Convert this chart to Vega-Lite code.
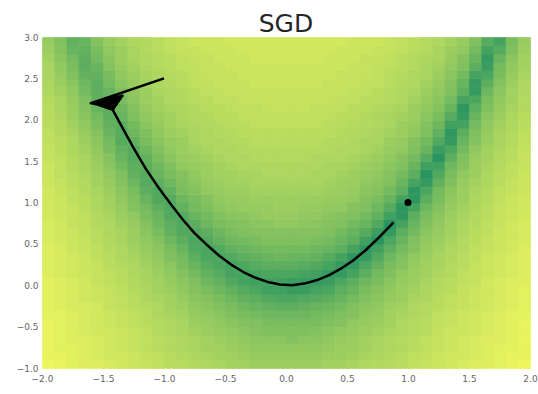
{
"$schema":"https://vega.github.io/schema/vega-lite/v6.json",
"width":488,"height":331,
"autosize":{"type":"none"},
"padding":{"left":42,"top":37,"right":8,"bottom":26},
"background":"white",
"title":{"text":"SGD","fontSize":25,"fontWeight":"normal","font":"DejaVu Sans","color":"#262626","anchor":"middle","offset":0,"baseline":"bottom","dy":29},
"config":{"view":{"stroke":null},"axis":{"domain":false,"ticks":false,"grid":false,"labelFont":"DejaVu Sans","labelFontSize":9,"labelColor":"#666666","title":null}},
"datasets":{
"grid":[
{"x":-1.95,"y":-0.95,"z":3.4},{"x":-1.95,"y":-0.85,"z":3.3},{"x":-1.95,"y":-0.75,"z":3.3},{"x":-1.95,"y":-0.65,"z":3.3},{"x":-1.95,"y":-0.55,"z":3.3},{"x":-1.95,"y":-0.45,"z":3.3},{"x":-1.95,"y":-0.35,"z":3.2},{"x":-1.95,"y":-0.25,"z":3.2},{"x":-1.95,"y":-0.15,"z":3.2},{"x":-1.95,"y":-0.05,"z":3.2},{"x":-1.95,"y":0.05,"z":3.2},{"x":-1.95,"y":0.15,"z":3.1},{"x":-1.95,"y":0.25,"z":3.1},{"x":-1.95,"y":0.35,"z":3.1},{"x":-1.95,"y":0.45,"z":3.1},{"x":-1.95,"y":0.55,"z":3.0},{"x":-1.95,"y":0.65,"z":3.0},{"x":-1.95,"y":0.75,"z":3.0},{"x":-1.95,"y":0.85,"z":2.9},{"x":-1.95,"y":0.95,"z":2.9},{"x":-1.95,"y":1.05,"z":2.9},{"x":-1.95,"y":1.15,"z":2.9},{"x":-1.95,"y":1.25,"z":2.8},{"x":-1.95,"y":1.35,"z":2.8},{"x":-1.95,"y":1.45,"z":2.8},{"x":-1.95,"y":1.55,"z":2.7},{"x":-1.95,"y":1.65,"z":2.7},{"x":-1.95,"y":1.75,"z":2.6},{"x":-1.95,"y":1.85,"z":2.6},{"x":-1.95,"y":1.95,"z":2.5},{"x":-1.95,"y":2.05,"z":2.5},{"x":-1.95,"y":2.15,"z":2.5},{"x":-1.95,"y":2.25,"z":2.4},{"x":-1.95,"y":2.35,"z":2.3},{"x":-1.95,"y":2.45,"z":2.3},{"x":-1.95,"y":2.55,"z":2.2},{"x":-1.95,"y":2.65,"z":2.2},{"x":-1.95,"y":2.75,"z":2.1},{"x":-1.95,"y":2.85,"z":2.0},{"x":-1.95,"y":2.95,"z":1.9},
{"x":-1.85,"y":-0.95,"z":3.3},{"x":-1.85,"y":-0.85,"z":3.3},{"x":-1.85,"y":-0.75,"z":3.2},{"x":-1.85,"y":-0.65,"z":3.2},{"x":-1.85,"y":-0.55,"z":3.2},{"x":-1.85,"y":-0.45,"z":3.2},{"x":-1.85,"y":-0.35,"z":3.2},{"x":-1.85,"y":-0.25,"z":3.1},{"x":-1.85,"y":-0.15,"z":3.1},{"x":-1.85,"y":-0.05,"z":3.1},{"x":-1.85,"y":0.05,"z":3.1},{"x":-1.85,"y":0.15,"z":3.0},{"x":-1.85,"y":0.25,"z":3.0},{"x":-1.85,"y":0.35,"z":3.0},{"x":-1.85,"y":0.45,"z":3.0},{"x":-1.85,"y":0.55,"z":2.9},{"x":-1.85,"y":0.65,"z":2.9},{"x":-1.85,"y":0.75,"z":2.9},{"x":-1.85,"y":0.85,"z":2.8},{"x":-1.85,"y":0.95,"z":2.8},{"x":-1.85,"y":1.05,"z":2.8},{"x":-1.85,"y":1.15,"z":2.7},{"x":-1.85,"y":1.25,"z":2.7},{"x":-1.85,"y":1.35,"z":2.6},{"x":-1.85,"y":1.45,"z":2.6},{"x":-1.85,"y":1.55,"z":2.6},{"x":-1.85,"y":1.65,"z":2.5},{"x":-1.85,"y":1.75,"z":2.5},{"x":-1.85,"y":1.85,"z":2.4},{"x":-1.85,"y":1.95,"z":2.4},{"x":-1.85,"y":2.05,"z":2.3},{"x":-1.85,"y":2.15,"z":2.2},{"x":-1.85,"y":2.25,"z":2.2},{"x":-1.85,"y":2.35,"z":2.1},{"x":-1.85,"y":2.45,"z":2.0},{"x":-1.85,"y":2.55,"z":1.9},{"x":-1.85,"y":2.65,"z":1.8},{"x":-1.85,"y":2.75,"z":1.7},{"x":-1.85,"y":2.85,"z":1.6},{"x":-1.85,"y":2.95,"z":1.5},
{"x":-1.75,"y":-0.95,"z":3.2},{"x":-1.75,"y":-0.85,"z":3.2},{"x":-1.75,"y":-0.75,"z":3.2},{"x":-1.75,"y":-0.65,"z":3.1},{"x":-1.75,"y":-0.55,"z":3.1},{"x":-1.75,"y":-0.45,"z":3.1},{"x":-1.75,"y":-0.35,"z":3.1},{"x":-1.75,"y":-0.25,"z":3.0},{"x":-1.75,"y":-0.15,"z":3.0},{"x":-1.75,"y":-0.05,"z":3.0},{"x":-1.75,"y":0.05,"z":3.0},{"x":-1.75,"y":0.15,"z":2.9},{"x":-1.75,"y":0.25,"z":2.9},{"x":-1.75,"y":0.35,"z":2.9},{"x":-1.75,"y":0.45,"z":2.8},{"x":-1.75,"y":0.55,"z":2.8},{"x":-1.75,"y":0.65,"z":2.8},{"x":-1.75,"y":0.75,"z":2.7},{"x":-1.75,"y":0.85,"z":2.7},{"x":-1.75,"y":0.95,"z":2.7},{"x":-1.75,"y":1.05,"z":2.6},{"x":-1.75,"y":1.15,"z":2.6},{"x":-1.75,"y":1.25,"z":2.5},{"x":-1.75,"y":1.35,"z":2.5},{"x":-1.75,"y":1.45,"z":2.4},{"x":-1.75,"y":1.55,"z":2.4},{"x":-1.75,"y":1.65,"z":2.3},{"x":-1.75,"y":1.75,"z":2.3},{"x":-1.75,"y":1.85,"z":2.2},{"x":-1.75,"y":1.95,"z":2.1},{"x":-1.75,"y":2.05,"z":2.0},{"x":-1.75,"y":2.15,"z":2.0},{"x":-1.75,"y":2.25,"z":1.9},{"x":-1.75,"y":2.35,"z":1.8},{"x":-1.75,"y":2.45,"z":1.7},{"x":-1.75,"y":2.55,"z":1.5},{"x":-1.75,"y":2.65,"z":1.4},{"x":-1.75,"y":2.75,"z":1.3},{"x":-1.75,"y":2.85,"z":1.1},{"x":-1.75,"y":2.95,"z":1.0},
{"x":-1.65,"y":-0.95,"z":3.1},{"x":-1.65,"y":-0.85,"z":3.1},{"x":-1.65,"y":-0.75,"z":3.1},{"x":-1.65,"y":-0.65,"z":3.1},{"x":-1.65,"y":-0.55,"z":3.0},{"x":-1.65,"y":-0.45,"z":3.0},{"x":-1.65,"y":-0.35,"z":3.0},{"x":-1.65,"y":-0.25,"z":3.0},{"x":-1.65,"y":-0.15,"z":2.9},{"x":-1.65,"y":-0.05,"z":2.9},{"x":-1.65,"y":0.05,"z":2.9},{"x":-1.65,"y":0.15,"z":2.8},{"x":-1.65,"y":0.25,"z":2.8},{"x":-1.65,"y":0.35,"z":2.8},{"x":-1.65,"y":0.45,"z":2.7},{"x":-1.65,"y":0.55,"z":2.7},{"x":-1.65,"y":0.65,"z":2.6},{"x":-1.65,"y":0.75,"z":2.6},{"x":-1.65,"y":0.85,"z":2.6},{"x":-1.65,"y":0.95,"z":2.5},{"x":-1.65,"y":1.05,"z":2.5},{"x":-1.65,"y":1.15,"z":2.4},{"x":-1.65,"y":1.25,"z":2.4},{"x":-1.65,"y":1.35,"z":2.3},{"x":-1.65,"y":1.45,"z":2.2},{"x":-1.65,"y":1.55,"z":2.2},{"x":-1.65,"y":1.65,"z":2.1},{"x":-1.65,"y":1.75,"z":2.0},{"x":-1.65,"y":1.85,"z":1.9},{"x":-1.65,"y":1.95,"z":1.8},{"x":-1.65,"y":2.05,"z":1.7},{"x":-1.65,"y":2.15,"z":1.6},{"x":-1.65,"y":2.25,"z":1.5},{"x":-1.65,"y":2.35,"z":1.3},{"x":-1.65,"y":2.45,"z":1.2},{"x":-1.65,"y":2.55,"z":1.0},{"x":-1.65,"y":2.65,"z":0.9},{"x":-1.65,"y":2.75,"z":0.9},{"x":-1.65,"y":2.85,"z":1.0},{"x":-1.65,"y":2.95,"z":1.1},
{"x":-1.55,"y":-0.95,"z":3.1},{"x":-1.55,"y":-0.85,"z":3.0},{"x":-1.55,"y":-0.75,"z":3.0},{"x":-1.55,"y":-0.65,"z":3.0},{"x":-1.55,"y":-0.55,"z":2.9},{"x":-1.55,"y":-0.45,"z":2.9},{"x":-1.55,"y":-0.35,"z":2.9},{"x":-1.55,"y":-0.25,"z":2.9},{"x":-1.55,"y":-0.15,"z":2.8},{"x":-1.55,"y":-0.05,"z":2.8},{"x":-1.55,"y":0.05,"z":2.7},{"x":-1.55,"y":0.15,"z":2.7},{"x":-1.55,"y":0.25,"z":2.7},{"x":-1.55,"y":0.35,"z":2.6},{"x":-1.55,"y":0.45,"z":2.6},{"x":-1.55,"y":0.55,"z":2.5},{"x":-1.55,"y":0.65,"z":2.5},{"x":-1.55,"y":0.75,"z":2.4},{"x":-1.55,"y":0.85,"z":2.4},{"x":-1.55,"y":0.95,"z":2.3},{"x":-1.55,"y":1.05,"z":2.3},{"x":-1.55,"y":1.15,"z":2.2},{"x":-1.55,"y":1.25,"z":2.1},{"x":-1.55,"y":1.35,"z":2.1},{"x":-1.55,"y":1.45,"z":2.0},{"x":-1.55,"y":1.55,"z":1.9},{"x":-1.55,"y":1.65,"z":1.8},{"x":-1.55,"y":1.75,"z":1.7},{"x":-1.55,"y":1.85,"z":1.6},{"x":-1.55,"y":1.95,"z":1.4},{"x":-1.55,"y":2.05,"z":1.3},{"x":-1.55,"y":2.15,"z":1.1},{"x":-1.55,"y":2.25,"z":1.0},{"x":-1.55,"y":2.35,"z":0.9},{"x":-1.55,"y":2.45,"z":0.9},{"x":-1.55,"y":2.55,"z":1.0},{"x":-1.55,"y":2.65,"z":1.1},{"x":-1.55,"y":2.75,"z":1.3},{"x":-1.55,"y":2.85,"z":1.4},{"x":-1.55,"y":2.95,"z":1.6},
{"x":-1.45,"y":-0.95,"z":3.0},{"x":-1.45,"y":-0.85,"z":2.9},{"x":-1.45,"y":-0.75,"z":2.9},{"x":-1.45,"y":-0.65,"z":2.9},{"x":-1.45,"y":-0.55,"z":2.9},{"x":-1.45,"y":-0.45,"z":2.8},{"x":-1.45,"y":-0.35,"z":2.8},{"x":-1.45,"y":-0.25,"z":2.7},{"x":-1.45,"y":-0.15,"z":2.7},{"x":-1.45,"y":-0.05,"z":2.7},{"x":-1.45,"y":0.05,"z":2.6},{"x":-1.45,"y":0.15,"z":2.6},{"x":-1.45,"y":0.25,"z":2.5},{"x":-1.45,"y":0.35,"z":2.5},{"x":-1.45,"y":0.45,"z":2.4},{"x":-1.45,"y":0.55,"z":2.4},{"x":-1.45,"y":0.65,"z":2.3},{"x":-1.45,"y":0.75,"z":2.3},{"x":-1.45,"y":0.85,"z":2.2},{"x":-1.45,"y":0.95,"z":2.1},{"x":-1.45,"y":1.05,"z":2.1},{"x":-1.45,"y":1.15,"z":2.0},{"x":-1.45,"y":1.25,"z":1.9},{"x":-1.45,"y":1.35,"z":1.8},{"x":-1.45,"y":1.45,"z":1.7},{"x":-1.45,"y":1.55,"z":1.6},{"x":-1.45,"y":1.65,"z":1.4},{"x":-1.45,"y":1.75,"z":1.3},{"x":-1.45,"y":1.85,"z":1.1},{"x":-1.45,"y":1.95,"z":1.0},{"x":-1.45,"y":2.05,"z":0.9},{"x":-1.45,"y":2.15,"z":0.9},{"x":-1.45,"y":2.25,"z":1.0},{"x":-1.45,"y":2.35,"z":1.1},{"x":-1.45,"y":2.45,"z":1.3},{"x":-1.45,"y":2.55,"z":1.4},{"x":-1.45,"y":2.65,"z":1.6},{"x":-1.45,"y":2.75,"z":1.7},{"x":-1.45,"y":2.85,"z":1.8},{"x":-1.45,"y":2.95,"z":1.9},
{"x":-1.35,"y":-0.95,"z":2.9},{"x":-1.35,"y":-0.85,"z":2.9},{"x":-1.35,"y":-0.75,"z":2.8},{"x":-1.35,"y":-0.65,"z":2.8},{"x":-1.35,"y":-0.55,"z":2.8},{"x":-1.35,"y":-0.45,"z":2.7},{"x":-1.35,"y":-0.35,"z":2.7},{"x":-1.35,"y":-0.25,"z":2.6},{"x":-1.35,"y":-0.15,"z":2.6},{"x":-1.35,"y":-0.05,"z":2.6},{"x":-1.35,"y":0.05,"z":2.5},{"x":-1.35,"y":0.15,"z":2.5},{"x":-1.35,"y":0.25,"z":2.4},{"x":-1.35,"y":0.35,"z":2.3},{"x":-1.35,"y":0.45,"z":2.3},{"x":-1.35,"y":0.55,"z":2.2},{"x":-1.35,"y":0.65,"z":2.2},{"x":-1.35,"y":0.75,"z":2.1},{"x":-1.35,"y":0.85,"z":2.0},{"x":-1.35,"y":0.95,"z":1.9},{"x":-1.35,"y":1.05,"z":1.8},{"x":-1.35,"y":1.15,"z":1.7},{"x":-1.35,"y":1.25,"z":1.6},{"x":-1.35,"y":1.35,"z":1.5},{"x":-1.35,"y":1.45,"z":1.3},{"x":-1.35,"y":1.55,"z":1.1},{"x":-1.35,"y":1.65,"z":1.0},{"x":-1.35,"y":1.75,"z":0.8},{"x":-1.35,"y":1.85,"z":0.8},{"x":-1.35,"y":1.95,"z":0.9},{"x":-1.35,"y":2.05,"z":1.1},{"x":-1.35,"y":2.15,"z":1.2},{"x":-1.35,"y":2.25,"z":1.4},{"x":-1.35,"y":2.35,"z":1.5},{"x":-1.35,"y":2.45,"z":1.7},{"x":-1.35,"y":2.55,"z":1.8},{"x":-1.35,"y":2.65,"z":1.9},{"x":-1.35,"y":2.75,"z":2.0},{"x":-1.35,"y":2.85,"z":2.0},{"x":-1.35,"y":2.95,"z":2.1},
{"x":-1.25,"y":-0.95,"z":2.8},{"x":-1.25,"y":-0.85,"z":2.8},{"x":-1.25,"y":-0.75,"z":2.7},{"x":-1.25,"y":-0.65,"z":2.7},{"x":-1.25,"y":-0.55,"z":2.7},{"x":-1.25,"y":-0.45,"z":2.6},{"x":-1.25,"y":-0.35,"z":2.6},{"x":-1.25,"y":-0.25,"z":2.5},{"x":-1.25,"y":-0.15,"z":2.5},{"x":-1.25,"y":-0.05,"z":2.4},{"x":-1.25,"y":0.05,"z":2.4},{"x":-1.25,"y":0.15,"z":2.3},{"x":-1.25,"y":0.25,"z":2.3},{"x":-1.25,"y":0.35,"z":2.2},{"x":-1.25,"y":0.45,"z":2.1},{"x":-1.25,"y":0.55,"z":2.0},{"x":-1.25,"y":0.65,"z":2.0},{"x":-1.25,"y":0.75,"z":1.9},{"x":-1.25,"y":0.85,"z":1.8},{"x":-1.25,"y":0.95,"z":1.6},{"x":-1.25,"y":1.05,"z":1.5},{"x":-1.25,"y":1.15,"z":1.4},{"x":-1.25,"y":1.25,"z":1.2},{"x":-1.25,"y":1.35,"z":1.0},{"x":-1.25,"y":1.45,"z":0.9},{"x":-1.25,"y":1.55,"z":0.8},{"x":-1.25,"y":1.65,"z":0.8},{"x":-1.25,"y":1.75,"z":1.0},{"x":-1.25,"y":1.85,"z":1.2},{"x":-1.25,"y":1.95,"z":1.3},{"x":-1.25,"y":2.05,"z":1.5},{"x":-1.25,"y":2.15,"z":1.6},{"x":-1.25,"y":2.25,"z":1.7},{"x":-1.25,"y":2.35,"z":1.8},{"x":-1.25,"y":2.45,"z":1.9},{"x":-1.25,"y":2.55,"z":2.0},{"x":-1.25,"y":2.65,"z":2.1},{"x":-1.25,"y":2.75,"z":2.2},{"x":-1.25,"y":2.85,"z":2.2},{"x":-1.25,"y":2.95,"z":2.3},
{"x":-1.15,"y":-0.95,"z":2.7},{"x":-1.15,"y":-0.85,"z":2.7},{"x":-1.15,"y":-0.75,"z":2.6},{"x":-1.15,"y":-0.65,"z":2.6},{"x":-1.15,"y":-0.55,"z":2.6},{"x":-1.15,"y":-0.45,"z":2.5},{"x":-1.15,"y":-0.35,"z":2.5},{"x":-1.15,"y":-0.25,"z":2.4},{"x":-1.15,"y":-0.15,"z":2.3},{"x":-1.15,"y":-0.05,"z":2.3},{"x":-1.15,"y":0.05,"z":2.2},{"x":-1.15,"y":0.15,"z":2.2},{"x":-1.15,"y":0.25,"z":2.1},{"x":-1.15,"y":0.35,"z":2.0},{"x":-1.15,"y":0.45,"z":1.9},{"x":-1.15,"y":0.55,"z":1.8},{"x":-1.15,"y":0.65,"z":1.7},{"x":-1.15,"y":0.75,"z":1.6},{"x":-1.15,"y":0.85,"z":1.4},{"x":-1.15,"y":0.95,"z":1.3},{"x":-1.15,"y":1.05,"z":1.1},{"x":-1.15,"y":1.15,"z":0.9},{"x":-1.15,"y":1.25,"z":0.8},{"x":-1.15,"y":1.35,"z":0.8},{"x":-1.15,"y":1.45,"z":0.9},{"x":-1.15,"y":1.55,"z":1.0},{"x":-1.15,"y":1.65,"z":1.2},{"x":-1.15,"y":1.75,"z":1.4},{"x":-1.15,"y":1.85,"z":1.5},{"x":-1.15,"y":1.95,"z":1.7},{"x":-1.15,"y":2.05,"z":1.8},{"x":-1.15,"y":2.15,"z":1.9},{"x":-1.15,"y":2.25,"z":2.0},{"x":-1.15,"y":2.35,"z":2.0},{"x":-1.15,"y":2.45,"z":2.1},{"x":-1.15,"y":2.55,"z":2.2},{"x":-1.15,"y":2.65,"z":2.3},{"x":-1.15,"y":2.75,"z":2.3},{"x":-1.15,"y":2.85,"z":2.4},{"x":-1.15,"y":2.95,"z":2.4},
{"x":-1.05,"y":-0.95,"z":2.6},{"x":-1.05,"y":-0.85,"z":2.6},{"x":-1.05,"y":-0.75,"z":2.5},{"x":-1.05,"y":-0.65,"z":2.5},{"x":-1.05,"y":-0.55,"z":2.4},{"x":-1.05,"y":-0.45,"z":2.4},{"x":-1.05,"y":-0.35,"z":2.3},{"x":-1.05,"y":-0.25,"z":2.3},{"x":-1.05,"y":-0.15,"z":2.2},{"x":-1.05,"y":-0.05,"z":2.1},{"x":-1.05,"y":0.05,"z":2.1},{"x":-1.05,"y":0.15,"z":2.0},{"x":-1.05,"y":0.25,"z":1.9},{"x":-1.05,"y":0.35,"z":1.8},{"x":-1.05,"y":0.45,"z":1.7},{"x":-1.05,"y":0.55,"z":1.6},{"x":-1.05,"y":0.65,"z":1.4},{"x":-1.05,"y":0.75,"z":1.2},{"x":-1.05,"y":0.85,"z":1.1},{"x":-1.05,"y":0.95,"z":0.9},{"x":-1.05,"y":1.05,"z":0.7},{"x":-1.05,"y":1.15,"z":0.7},{"x":-1.05,"y":1.25,"z":0.9},{"x":-1.05,"y":1.35,"z":1.1},{"x":-1.05,"y":1.45,"z":1.2},{"x":-1.05,"y":1.55,"z":1.4},{"x":-1.05,"y":1.65,"z":1.5},{"x":-1.05,"y":1.75,"z":1.7},{"x":-1.05,"y":1.85,"z":1.8},{"x":-1.05,"y":1.95,"z":1.9},{"x":-1.05,"y":2.05,"z":2.0},{"x":-1.05,"y":2.15,"z":2.1},{"x":-1.05,"y":2.25,"z":2.1},{"x":-1.05,"y":2.35,"z":2.2},{"x":-1.05,"y":2.45,"z":2.3},{"x":-1.05,"y":2.55,"z":2.3},{"x":-1.05,"y":2.65,"z":2.4},{"x":-1.05,"y":2.75,"z":2.4},{"x":-1.05,"y":2.85,"z":2.5},{"x":-1.05,"y":2.95,"z":2.5},
{"x":-0.95,"y":-0.95,"z":2.5},{"x":-0.95,"y":-0.85,"z":2.5},{"x":-0.95,"y":-0.75,"z":2.4},{"x":-0.95,"y":-0.65,"z":2.4},{"x":-0.95,"y":-0.55,"z":2.3},{"x":-0.95,"y":-0.45,"z":2.3},{"x":-0.95,"y":-0.35,"z":2.2},{"x":-0.95,"y":-0.25,"z":2.1},{"x":-0.95,"y":-0.15,"z":2.1},{"x":-0.95,"y":-0.05,"z":2.0},{"x":-0.95,"y":0.05,"z":1.9},{"x":-0.95,"y":0.15,"z":1.8},{"x":-0.95,"y":0.25,"z":1.7},{"x":-0.95,"y":0.35,"z":1.5},{"x":-0.95,"y":0.45,"z":1.4},{"x":-0.95,"y":0.55,"z":1.2},{"x":-0.95,"y":0.65,"z":1.0},{"x":-0.95,"y":0.75,"z":0.9},{"x":-0.95,"y":0.85,"z":0.7},{"x":-0.95,"y":0.95,"z":0.7},{"x":-0.95,"y":1.05,"z":0.8},{"x":-0.95,"y":1.15,"z":1.0},{"x":-0.95,"y":1.25,"z":1.2},{"x":-0.95,"y":1.35,"z":1.4},{"x":-0.95,"y":1.45,"z":1.5},{"x":-0.95,"y":1.55,"z":1.7},{"x":-0.95,"y":1.65,"z":1.8},{"x":-0.95,"y":1.75,"z":1.9},{"x":-0.95,"y":1.85,"z":2.0},{"x":-0.95,"y":1.95,"z":2.1},{"x":-0.95,"y":2.05,"z":2.1},{"x":-0.95,"y":2.15,"z":2.2},{"x":-0.95,"y":2.25,"z":2.3},{"x":-0.95,"y":2.35,"z":2.3},{"x":-0.95,"y":2.45,"z":2.4},{"x":-0.95,"y":2.55,"z":2.4},{"x":-0.95,"y":2.65,"z":2.5},{"x":-0.95,"y":2.75,"z":2.5},{"x":-0.95,"y":2.85,"z":2.6},{"x":-0.95,"y":2.95,"z":2.6},
{"x":-0.85,"y":-0.95,"z":2.5},{"x":-0.85,"y":-0.85,"z":2.4},{"x":-0.85,"y":-0.75,"z":2.3},{"x":-0.85,"y":-0.65,"z":2.3},{"x":-0.85,"y":-0.55,"z":2.2},{"x":-0.85,"y":-0.45,"z":2.2},{"x":-0.85,"y":-0.35,"z":2.1},{"x":-0.85,"y":-0.25,"z":2.0},{"x":-0.85,"y":-0.15,"z":1.9},{"x":-0.85,"y":-0.05,"z":1.8},{"x":-0.85,"y":0.05,"z":1.7},{"x":-0.85,"y":0.15,"z":1.6},{"x":-0.85,"y":0.25,"z":1.4},{"x":-0.85,"y":0.35,"z":1.3},{"x":-0.85,"y":0.45,"z":1.1},{"x":-0.85,"y":0.55,"z":0.9},{"x":-0.85,"y":0.65,"z":0.7},{"x":-0.85,"y":0.75,"z":0.7},{"x":-0.85,"y":0.85,"z":0.8},{"x":-0.85,"y":0.95,"z":1.0},{"x":-0.85,"y":1.05,"z":1.2},{"x":-0.85,"y":1.15,"z":1.4},{"x":-0.85,"y":1.25,"z":1.5},{"x":-0.85,"y":1.35,"z":1.6},{"x":-0.85,"y":1.45,"z":1.8},{"x":-0.85,"y":1.55,"z":1.9},{"x":-0.85,"y":1.65,"z":2.0},{"x":-0.85,"y":1.75,"z":2.0},{"x":-0.85,"y":1.85,"z":2.1},{"x":-0.85,"y":1.95,"z":2.2},{"x":-0.85,"y":2.05,"z":2.3},{"x":-0.85,"y":2.15,"z":2.3},{"x":-0.85,"y":2.25,"z":2.4},{"x":-0.85,"y":2.35,"z":2.4},{"x":-0.85,"y":2.45,"z":2.5},{"x":-0.85,"y":2.55,"z":2.5},{"x":-0.85,"y":2.65,"z":2.6},{"x":-0.85,"y":2.75,"z":2.6},{"x":-0.85,"y":2.85,"z":2.7},{"x":-0.85,"y":2.95,"z":2.7},
{"x":-0.75,"y":-0.95,"z":2.4},{"x":-0.75,"y":-0.85,"z":2.3},{"x":-0.75,"y":-0.75,"z":2.2},{"x":-0.75,"y":-0.65,"z":2.2},{"x":-0.75,"y":-0.55,"z":2.1},{"x":-0.75,"y":-0.45,"z":2.0},{"x":-0.75,"y":-0.35,"z":1.9},{"x":-0.75,"y":-0.25,"z":1.8},{"x":-0.75,"y":-0.15,"z":1.7},{"x":-0.75,"y":-0.05,"z":1.6},{"x":-0.75,"y":0.05,"z":1.5},{"x":-0.75,"y":0.15,"z":1.3},{"x":-0.75,"y":0.25,"z":1.1},{"x":-0.75,"y":0.35,"z":0.9},{"x":-0.75,"y":0.45,"z":0.7},{"x":-0.75,"y":0.55,"z":0.6},{"x":-0.75,"y":0.65,"z":0.7},{"x":-0.75,"y":0.75,"z":0.9},{"x":-0.75,"y":0.85,"z":1.1},{"x":-0.75,"y":0.95,"z":1.3},{"x":-0.75,"y":1.05,"z":1.4},{"x":-0.75,"y":1.15,"z":1.6},{"x":-0.75,"y":1.25,"z":1.7},{"x":-0.75,"y":1.35,"z":1.8},{"x":-0.75,"y":1.45,"z":1.9},{"x":-0.75,"y":1.55,"z":2.0},{"x":-0.75,"y":1.65,"z":2.1},{"x":-0.75,"y":1.75,"z":2.2},{"x":-0.75,"y":1.85,"z":2.2},{"x":-0.75,"y":1.95,"z":2.3},{"x":-0.75,"y":2.05,"z":2.4},{"x":-0.75,"y":2.15,"z":2.4},{"x":-0.75,"y":2.25,"z":2.5},{"x":-0.75,"y":2.35,"z":2.5},{"x":-0.75,"y":2.45,"z":2.6},{"x":-0.75,"y":2.55,"z":2.6},{"x":-0.75,"y":2.65,"z":2.6},{"x":-0.75,"y":2.75,"z":2.7},{"x":-0.75,"y":2.85,"z":2.7},{"x":-0.75,"y":2.95,"z":2.8},
{"x":-0.65,"y":-0.95,"z":2.3},{"x":-0.65,"y":-0.85,"z":2.2},{"x":-0.65,"y":-0.75,"z":2.1},{"x":-0.65,"y":-0.65,"z":2.1},{"x":-0.65,"y":-0.55,"z":2.0},{"x":-0.65,"y":-0.45,"z":1.9},{"x":-0.65,"y":-0.35,"z":1.8},{"x":-0.65,"y":-0.25,"z":1.7},{"x":-0.65,"y":-0.15,"z":1.6},{"x":-0.65,"y":-0.05,"z":1.4},{"x":-0.65,"y":0.05,"z":1.2},{"x":-0.65,"y":0.15,"z":1.0},{"x":-0.65,"y":0.25,"z":0.8},{"x":-0.65,"y":0.35,"z":0.6},{"x":-0.65,"y":0.45,"z":0.6},{"x":-0.65,"y":0.55,"z":0.7},{"x":-0.65,"y":0.65,"z":0.9},{"x":-0.65,"y":0.75,"z":1.2},{"x":-0.65,"y":0.85,"z":1.3},{"x":-0.65,"y":0.95,"z":1.5},{"x":-0.65,"y":1.05,"z":1.6},{"x":-0.65,"y":1.15,"z":1.8},{"x":-0.65,"y":1.25,"z":1.9},{"x":-0.65,"y":1.35,"z":2.0},{"x":-0.65,"y":1.45,"z":2.0},{"x":-0.65,"y":1.55,"z":2.1},{"x":-0.65,"y":1.65,"z":2.2},{"x":-0.65,"y":1.75,"z":2.3},{"x":-0.65,"y":1.85,"z":2.3},{"x":-0.65,"y":1.95,"z":2.4},{"x":-0.65,"y":2.05,"z":2.4},{"x":-0.65,"y":2.15,"z":2.5},{"x":-0.65,"y":2.25,"z":2.5},{"x":-0.65,"y":2.35,"z":2.6},{"x":-0.65,"y":2.45,"z":2.6},{"x":-0.65,"y":2.55,"z":2.7},{"x":-0.65,"y":2.65,"z":2.7},{"x":-0.65,"y":2.75,"z":2.7},{"x":-0.65,"y":2.85,"z":2.8},{"x":-0.65,"y":2.95,"z":2.8},
{"x":-0.55,"y":-0.95,"z":2.2},{"x":-0.55,"y":-0.85,"z":2.1},{"x":-0.55,"y":-0.75,"z":2.1},{"x":-0.55,"y":-0.65,"z":2.0},{"x":-0.55,"y":-0.55,"z":1.9},{"x":-0.55,"y":-0.45,"z":1.8},{"x":-0.55,"y":-0.35,"z":1.7},{"x":-0.55,"y":-0.25,"z":1.5},{"x":-0.55,"y":-0.15,"z":1.4},{"x":-0.55,"y":-0.05,"z":1.2},{"x":-0.55,"y":0.05,"z":1.0},{"x":-0.55,"y":0.15,"z":0.8},{"x":-0.55,"y":0.25,"z":0.6},{"x":-0.55,"y":0.35,"z":0.6},{"x":-0.55,"y":0.45,"z":0.7},{"x":-0.55,"y":0.55,"z":1.0},{"x":-0.55,"y":0.65,"z":1.2},{"x":-0.55,"y":0.75,"z":1.4},{"x":-0.55,"y":0.85,"z":1.5},{"x":-0.55,"y":0.95,"z":1.7},{"x":-0.55,"y":1.05,"z":1.8},{"x":-0.55,"y":1.15,"z":1.9},{"x":-0.55,"y":1.25,"z":2.0},{"x":-0.55,"y":1.35,"z":2.1},{"x":-0.55,"y":1.45,"z":2.1},{"x":-0.55,"y":1.55,"z":2.2},{"x":-0.55,"y":1.65,"z":2.3},{"x":-0.55,"y":1.75,"z":2.3},{"x":-0.55,"y":1.85,"z":2.4},{"x":-0.55,"y":1.95,"z":2.4},{"x":-0.55,"y":2.05,"z":2.5},{"x":-0.55,"y":2.15,"z":2.5},{"x":-0.55,"y":2.25,"z":2.6},{"x":-0.55,"y":2.35,"z":2.6},{"x":-0.55,"y":2.45,"z":2.7},{"x":-0.55,"y":2.55,"z":2.7},{"x":-0.55,"y":2.65,"z":2.7},{"x":-0.55,"y":2.75,"z":2.8},{"x":-0.55,"y":2.85,"z":2.8},{"x":-0.55,"y":2.95,"z":2.8},
{"x":-0.45,"y":-0.95,"z":2.1},{"x":-0.45,"y":-0.85,"z":2.1},{"x":-0.45,"y":-0.75,"z":2.0},{"x":-0.45,"y":-0.65,"z":1.9},{"x":-0.45,"y":-0.55,"z":1.8},{"x":-0.45,"y":-0.45,"z":1.7},{"x":-0.45,"y":-0.35,"z":1.5},{"x":-0.45,"y":-0.25,"z":1.4},{"x":-0.45,"y":-0.15,"z":1.2},{"x":-0.45,"y":-0.05,"z":1.0},{"x":-0.45,"y":0.05,"z":0.7},{"x":-0.45,"y":0.15,"z":0.5},{"x":-0.45,"y":0.25,"z":0.5},{"x":-0.45,"y":0.35,"z":0.7},{"x":-0.45,"y":0.45,"z":1.0},{"x":-0.45,"y":0.55,"z":1.2},{"x":-0.45,"y":0.65,"z":1.4},{"x":-0.45,"y":0.75,"z":1.5},{"x":-0.45,"y":0.85,"z":1.7},{"x":-0.45,"y":0.95,"z":1.8},{"x":-0.45,"y":1.05,"z":1.9},{"x":-0.45,"y":1.15,"z":2.0},{"x":-0.45,"y":1.25,"z":2.1},{"x":-0.45,"y":1.35,"z":2.1},{"x":-0.45,"y":1.45,"z":2.2},{"x":-0.45,"y":1.55,"z":2.3},{"x":-0.45,"y":1.65,"z":2.3},{"x":-0.45,"y":1.75,"z":2.4},{"x":-0.45,"y":1.85,"z":2.4},{"x":-0.45,"y":1.95,"z":2.5},{"x":-0.45,"y":2.05,"z":2.5},{"x":-0.45,"y":2.15,"z":2.6},{"x":-0.45,"y":2.25,"z":2.6},{"x":-0.45,"y":2.35,"z":2.7},{"x":-0.45,"y":2.45,"z":2.7},{"x":-0.45,"y":2.55,"z":2.7},{"x":-0.45,"y":2.65,"z":2.8},{"x":-0.45,"y":2.75,"z":2.8},{"x":-0.45,"y":2.85,"z":2.8},{"x":-0.45,"y":2.95,"z":2.9},
{"x":-0.35,"y":-0.95,"z":2.1},{"x":-0.35,"y":-0.85,"z":2.0},{"x":-0.35,"y":-0.75,"z":1.9},{"x":-0.35,"y":-0.65,"z":1.8},{"x":-0.35,"y":-0.55,"z":1.7},{"x":-0.35,"y":-0.45,"z":1.6},{"x":-0.35,"y":-0.35,"z":1.4},{"x":-0.35,"y":-0.25,"z":1.2},{"x":-0.35,"y":-0.15,"z":1.0},{"x":-0.35,"y":-0.05,"z":0.8},{"x":-0.35,"y":0.05,"z":0.5},{"x":-0.35,"y":0.15,"z":0.5},{"x":-0.35,"y":0.25,"z":0.6},{"x":-0.35,"y":0.35,"z":0.9},{"x":-0.35,"y":0.45,"z":1.1},{"x":-0.35,"y":0.55,"z":1.3},{"x":-0.35,"y":0.65,"z":1.5},{"x":-0.35,"y":0.75,"z":1.6},{"x":-0.35,"y":0.85,"z":1.7},{"x":-0.35,"y":0.95,"z":1.9},{"x":-0.35,"y":1.05,"z":1.9},{"x":-0.35,"y":1.15,"z":2.0},{"x":-0.35,"y":1.25,"z":2.1},{"x":-0.35,"y":1.35,"z":2.2},{"x":-0.35,"y":1.45,"z":2.3},{"x":-0.35,"y":1.55,"z":2.3},{"x":-0.35,"y":1.65,"z":2.4},{"x":-0.35,"y":1.75,"z":2.4},{"x":-0.35,"y":1.85,"z":2.5},{"x":-0.35,"y":1.95,"z":2.5},{"x":-0.35,"y":2.05,"z":2.6},{"x":-0.35,"y":2.15,"z":2.6},{"x":-0.35,"y":2.25,"z":2.7},{"x":-0.35,"y":2.35,"z":2.7},{"x":-0.35,"y":2.45,"z":2.7},{"x":-0.35,"y":2.55,"z":2.8},{"x":-0.35,"y":2.65,"z":2.8},{"x":-0.35,"y":2.75,"z":2.8},{"x":-0.35,"y":2.85,"z":2.9},{"x":-0.35,"y":2.95,"z":2.9},
{"x":-0.25,"y":-0.95,"z":2.0},{"x":-0.25,"y":-0.85,"z":1.9},{"x":-0.25,"y":-0.75,"z":1.8},{"x":-0.25,"y":-0.65,"z":1.7},{"x":-0.25,"y":-0.55,"z":1.6},{"x":-0.25,"y":-0.45,"z":1.5},{"x":-0.25,"y":-0.35,"z":1.3},{"x":-0.25,"y":-0.25,"z":1.1},{"x":-0.25,"y":-0.15,"z":0.9},{"x":-0.25,"y":-0.05,"z":0.6},{"x":-0.25,"y":0.05,"z":0.4},{"x":-0.25,"y":0.15,"z":0.5},{"x":-0.25,"y":0.25,"z":0.8},{"x":-0.25,"y":0.35,"z":1.0},{"x":-0.25,"y":0.45,"z":1.2},{"x":-0.25,"y":0.55,"z":1.4},{"x":-0.25,"y":0.65,"z":1.6},{"x":-0.25,"y":0.75,"z":1.7},{"x":-0.25,"y":0.85,"z":1.8},{"x":-0.25,"y":0.95,"z":1.9},{"x":-0.25,"y":1.05,"z":2.0},{"x":-0.25,"y":1.15,"z":2.1},{"x":-0.25,"y":1.25,"z":2.2},{"x":-0.25,"y":1.35,"z":2.2},{"x":-0.25,"y":1.45,"z":2.3},{"x":-0.25,"y":1.55,"z":2.4},{"x":-0.25,"y":1.65,"z":2.4},{"x":-0.25,"y":1.75,"z":2.5},{"x":-0.25,"y":1.85,"z":2.5},{"x":-0.25,"y":1.95,"z":2.6},{"x":-0.25,"y":2.05,"z":2.6},{"x":-0.25,"y":2.15,"z":2.6},{"x":-0.25,"y":2.25,"z":2.7},{"x":-0.25,"y":2.35,"z":2.7},{"x":-0.25,"y":2.45,"z":2.8},{"x":-0.25,"y":2.55,"z":2.8},{"x":-0.25,"y":2.65,"z":2.8},{"x":-0.25,"y":2.75,"z":2.9},{"x":-0.25,"y":2.85,"z":2.9},{"x":-0.25,"y":2.95,"z":2.9},
{"x":-0.15,"y":-0.95,"z":2.0},{"x":-0.15,"y":-0.85,"z":1.9},{"x":-0.15,"y":-0.75,"z":1.8},{"x":-0.15,"y":-0.65,"z":1.7},{"x":-0.15,"y":-0.55,"z":1.5},{"x":-0.15,"y":-0.45,"z":1.4},{"x":-0.15,"y":-0.35,"z":1.2},{"x":-0.15,"y":-0.25,"z":1.0},{"x":-0.15,"y":-0.15,"z":0.7},{"x":-0.15,"y":-0.05,"z":0.4},{"x":-0.15,"y":0.05,"z":0.4},{"x":-0.15,"y":0.15,"z":0.6},{"x":-0.15,"y":0.25,"z":0.9},{"x":-0.15,"y":0.35,"z":1.1},{"x":-0.15,"y":0.45,"z":1.3},{"x":-0.15,"y":0.55,"z":1.5},{"x":-0.15,"y":0.65,"z":1.6},{"x":-0.15,"y":0.75,"z":1.7},{"x":-0.15,"y":0.85,"z":1.9},{"x":-0.15,"y":0.95,"z":1.9},{"x":-0.15,"y":1.05,"z":2.0},{"x":-0.15,"y":1.15,"z":2.1},{"x":-0.15,"y":1.25,"z":2.2},{"x":-0.15,"y":1.35,"z":2.3},{"x":-0.15,"y":1.45,"z":2.3},{"x":-0.15,"y":1.55,"z":2.4},{"x":-0.15,"y":1.65,"z":2.4},{"x":-0.15,"y":1.75,"z":2.5},{"x":-0.15,"y":1.85,"z":2.5},{"x":-0.15,"y":1.95,"z":2.6},{"x":-0.15,"y":2.05,"z":2.6},{"x":-0.15,"y":2.15,"z":2.7},{"x":-0.15,"y":2.25,"z":2.7},{"x":-0.15,"y":2.35,"z":2.7},{"x":-0.15,"y":2.45,"z":2.8},{"x":-0.15,"y":2.55,"z":2.8},{"x":-0.15,"y":2.65,"z":2.8},{"x":-0.15,"y":2.75,"z":2.9},{"x":-0.15,"y":2.85,"z":2.9},{"x":-0.15,"y":2.95,"z":2.9},
{"x":-0.05,"y":-0.95,"z":2.0},{"x":-0.05,"y":-0.85,"z":1.9},{"x":-0.05,"y":-0.75,"z":1.8},{"x":-0.05,"y":-0.65,"z":1.7},{"x":-0.05,"y":-0.55,"z":1.5},{"x":-0.05,"y":-0.45,"z":1.4},{"x":-0.05,"y":-0.35,"z":1.2},{"x":-0.05,"y":-0.25,"z":0.9},{"x":-0.05,"y":-0.15,"z":0.6},{"x":-0.05,"y":-0.05,"z":0.4},{"x":-0.05,"y":0.05,"z":0.4},{"x":-0.05,"y":0.15,"z":0.6},{"x":-0.05,"y":0.25,"z":0.9},{"x":-0.05,"y":0.35,"z":1.2},{"x":-0.05,"y":0.45,"z":1.3},{"x":-0.05,"y":0.55,"z":1.5},{"x":-0.05,"y":0.65,"z":1.6},{"x":-0.05,"y":0.75,"z":1.8},{"x":-0.05,"y":0.85,"z":1.9},{"x":-0.05,"y":0.95,"z":2.0},{"x":-0.05,"y":1.05,"z":2.0},{"x":-0.05,"y":1.15,"z":2.1},{"x":-0.05,"y":1.25,"z":2.2},{"x":-0.05,"y":1.35,"z":2.3},{"x":-0.05,"y":1.45,"z":2.3},{"x":-0.05,"y":1.55,"z":2.4},{"x":-0.05,"y":1.65,"z":2.4},{"x":-0.05,"y":1.75,"z":2.5},{"x":-0.05,"y":1.85,"z":2.5},{"x":-0.05,"y":1.95,"z":2.6},{"x":-0.05,"y":2.05,"z":2.6},{"x":-0.05,"y":2.15,"z":2.7},{"x":-0.05,"y":2.25,"z":2.7},{"x":-0.05,"y":2.35,"z":2.7},{"x":-0.05,"y":2.45,"z":2.8},{"x":-0.05,"y":2.55,"z":2.8},{"x":-0.05,"y":2.65,"z":2.8},{"x":-0.05,"y":2.75,"z":2.9},{"x":-0.05,"y":2.85,"z":2.9},{"x":-0.05,"y":2.95,"z":2.9},
{"x":0.05,"y":-0.95,"z":2.0},{"x":0.05,"y":-0.85,"z":1.9},{"x":0.05,"y":-0.75,"z":1.8},{"x":0.05,"y":-0.65,"z":1.6},{"x":0.05,"y":-0.55,"z":1.5},{"x":0.05,"y":-0.45,"z":1.4},{"x":0.05,"y":-0.35,"z":1.2},{"x":0.05,"y":-0.25,"z":0.9},{"x":0.05,"y":-0.15,"z":0.6},{"x":0.05,"y":-0.05,"z":0.3},{"x":0.05,"y":0.05,"z":0.3},{"x":0.05,"y":0.15,"z":0.6},{"x":0.05,"y":0.25,"z":0.9},{"x":0.05,"y":0.35,"z":1.1},{"x":0.05,"y":0.45,"z":1.3},{"x":0.05,"y":0.55,"z":1.5},{"x":0.05,"y":0.65,"z":1.6},{"x":0.05,"y":0.75,"z":1.8},{"x":0.05,"y":0.85,"z":1.9},{"x":0.05,"y":0.95,"z":2.0},{"x":0.05,"y":1.05,"z":2.0},{"x":0.05,"y":1.15,"z":2.1},{"x":0.05,"y":1.25,"z":2.2},{"x":0.05,"y":1.35,"z":2.3},{"x":0.05,"y":1.45,"z":2.3},{"x":0.05,"y":1.55,"z":2.4},{"x":0.05,"y":1.65,"z":2.4},{"x":0.05,"y":1.75,"z":2.5},{"x":0.05,"y":1.85,"z":2.5},{"x":0.05,"y":1.95,"z":2.6},{"x":0.05,"y":2.05,"z":2.6},{"x":0.05,"y":2.15,"z":2.7},{"x":0.05,"y":2.25,"z":2.7},{"x":0.05,"y":2.35,"z":2.7},{"x":0.05,"y":2.45,"z":2.8},{"x":0.05,"y":2.55,"z":2.8},{"x":0.05,"y":2.65,"z":2.8},{"x":0.05,"y":2.75,"z":2.9},{"x":0.05,"y":2.85,"z":2.9},{"x":0.05,"y":2.95,"z":2.9},
{"x":0.15,"y":-0.95,"z":2.0},{"x":0.15,"y":-0.85,"z":1.9},{"x":0.15,"y":-0.75,"z":1.8},{"x":0.15,"y":-0.65,"z":1.7},{"x":0.15,"y":-0.55,"z":1.5},{"x":0.15,"y":-0.45,"z":1.4},{"x":0.15,"y":-0.35,"z":1.2},{"x":0.15,"y":-0.25,"z":1.0},{"x":0.15,"y":-0.15,"z":0.7},{"x":0.15,"y":-0.05,"z":0.3},{"x":0.15,"y":0.05,"z":0.3},{"x":0.15,"y":0.15,"z":0.5},{"x":0.15,"y":0.25,"z":0.8},{"x":0.15,"y":0.35,"z":1.1},{"x":0.15,"y":0.45,"z":1.3},{"x":0.15,"y":0.55,"z":1.5},{"x":0.15,"y":0.65,"z":1.6},{"x":0.15,"y":0.75,"z":1.7},{"x":0.15,"y":0.85,"z":1.8},{"x":0.15,"y":0.95,"z":1.9},{"x":0.15,"y":1.05,"z":2.0},{"x":0.15,"y":1.15,"z":2.1},{"x":0.15,"y":1.25,"z":2.2},{"x":0.15,"y":1.35,"z":2.3},{"x":0.15,"y":1.45,"z":2.3},{"x":0.15,"y":1.55,"z":2.4},{"x":0.15,"y":1.65,"z":2.4},{"x":0.15,"y":1.75,"z":2.5},{"x":0.15,"y":1.85,"z":2.5},{"x":0.15,"y":1.95,"z":2.6},{"x":0.15,"y":2.05,"z":2.6},{"x":0.15,"y":2.15,"z":2.7},{"x":0.15,"y":2.25,"z":2.7},{"x":0.15,"y":2.35,"z":2.7},{"x":0.15,"y":2.45,"z":2.8},{"x":0.15,"y":2.55,"z":2.8},{"x":0.15,"y":2.65,"z":2.8},{"x":0.15,"y":2.75,"z":2.9},{"x":0.15,"y":2.85,"z":2.9},{"x":0.15,"y":2.95,"z":2.9},
{"x":0.25,"y":-0.95,"z":2.0},{"x":0.25,"y":-0.85,"z":1.9},{"x":0.25,"y":-0.75,"z":1.8},{"x":0.25,"y":-0.65,"z":1.7},{"x":0.25,"y":-0.55,"z":1.6},{"x":0.25,"y":-0.45,"z":1.4},{"x":0.25,"y":-0.35,"z":1.3},{"x":0.25,"y":-0.25,"z":1.1},{"x":0.25,"y":-0.15,"z":0.8},{"x":0.25,"y":-0.05,"z":0.5},{"x":0.25,"y":0.05,"z":0.2},{"x":0.25,"y":0.15,"z":0.4},{"x":0.25,"y":0.25,"z":0.7},{"x":0.25,"y":0.35,"z":1.0},{"x":0.25,"y":0.45,"z":1.2},{"x":0.25,"y":0.55,"z":1.4},{"x":0.25,"y":0.65,"z":1.6},{"x":0.25,"y":0.75,"z":1.7},{"x":0.25,"y":0.85,"z":1.8},{"x":0.25,"y":0.95,"z":1.9},{"x":0.25,"y":1.05,"z":2.0},{"x":0.25,"y":1.15,"z":2.1},{"x":0.25,"y":1.25,"z":2.2},{"x":0.25,"y":1.35,"z":2.2},{"x":0.25,"y":1.45,"z":2.3},{"x":0.25,"y":1.55,"z":2.3},{"x":0.25,"y":1.65,"z":2.4},{"x":0.25,"y":1.75,"z":2.5},{"x":0.25,"y":1.85,"z":2.5},{"x":0.25,"y":1.95,"z":2.6},{"x":0.25,"y":2.05,"z":2.6},{"x":0.25,"y":2.15,"z":2.6},{"x":0.25,"y":2.25,"z":2.7},{"x":0.25,"y":2.35,"z":2.7},{"x":0.25,"y":2.45,"z":2.8},{"x":0.25,"y":2.55,"z":2.8},{"x":0.25,"y":2.65,"z":2.8},{"x":0.25,"y":2.75,"z":2.9},{"x":0.25,"y":2.85,"z":2.9},{"x":0.25,"y":2.95,"z":2.9},
{"x":0.35,"y":-0.95,"z":2.1},{"x":0.35,"y":-0.85,"z":2.0},{"x":0.35,"y":-0.75,"z":1.9},{"x":0.35,"y":-0.65,"z":1.8},{"x":0.35,"y":-0.55,"z":1.7},{"x":0.35,"y":-0.45,"z":1.5},{"x":0.35,"y":-0.35,"z":1.4},{"x":0.35,"y":-0.25,"z":1.2},{"x":0.35,"y":-0.15,"z":0.9},{"x":0.35,"y":-0.05,"z":0.6},{"x":0.35,"y":0.05,"z":0.3},{"x":0.35,"y":0.15,"z":0.2},{"x":0.35,"y":0.25,"z":0.5},{"x":0.35,"y":0.35,"z":0.8},{"x":0.35,"y":0.45,"z":1.1},{"x":0.35,"y":0.55,"z":1.3},{"x":0.35,"y":0.65,"z":1.5},{"x":0.35,"y":0.75,"z":1.6},{"x":0.35,"y":0.85,"z":1.7},{"x":0.35,"y":0.95,"z":1.8},{"x":0.35,"y":1.05,"z":1.9},{"x":0.35,"y":1.15,"z":2.0},{"x":0.35,"y":1.25,"z":2.1},{"x":0.35,"y":1.35,"z":2.2},{"x":0.35,"y":1.45,"z":2.2},{"x":0.35,"y":1.55,"z":2.3},{"x":0.35,"y":1.65,"z":2.4},{"x":0.35,"y":1.75,"z":2.4},{"x":0.35,"y":1.85,"z":2.5},{"x":0.35,"y":1.95,"z":2.5},{"x":0.35,"y":2.05,"z":2.6},{"x":0.35,"y":2.15,"z":2.6},{"x":0.35,"y":2.25,"z":2.7},{"x":0.35,"y":2.35,"z":2.7},{"x":0.35,"y":2.45,"z":2.7},{"x":0.35,"y":2.55,"z":2.8},{"x":0.35,"y":2.65,"z":2.8},{"x":0.35,"y":2.75,"z":2.8},{"x":0.35,"y":2.85,"z":2.9},{"x":0.35,"y":2.95,"z":2.9},
{"x":0.45,"y":-0.95,"z":2.1},{"x":0.45,"y":-0.85,"z":2.0},{"x":0.45,"y":-0.75,"z":2.0},{"x":0.45,"y":-0.65,"z":1.9},{"x":0.45,"y":-0.55,"z":1.8},{"x":0.45,"y":-0.45,"z":1.6},{"x":0.45,"y":-0.35,"z":1.5},{"x":0.45,"y":-0.25,"z":1.3},{"x":0.45,"y":-0.15,"z":1.1},{"x":0.45,"y":-0.05,"z":0.9},{"x":0.45,"y":0.05,"z":0.6},{"x":0.45,"y":0.15,"z":0.2},{"x":0.45,"y":0.25,"z":0.2},{"x":0.45,"y":0.35,"z":0.5},{"x":0.45,"y":0.45,"z":0.9},{"x":0.45,"y":0.55,"z":1.1},{"x":0.45,"y":0.65,"z":1.3},{"x":0.45,"y":0.75,"z":1.5},{"x":0.45,"y":0.85,"z":1.6},{"x":0.45,"y":0.95,"z":1.8},{"x":0.45,"y":1.05,"z":1.9},{"x":0.45,"y":1.15,"z":2.0},{"x":0.45,"y":1.25,"z":2.0},{"x":0.45,"y":1.35,"z":2.1},{"x":0.45,"y":1.45,"z":2.2},{"x":0.45,"y":1.55,"z":2.3},{"x":0.45,"y":1.65,"z":2.3},{"x":0.45,"y":1.75,"z":2.4},{"x":0.45,"y":1.85,"z":2.4},{"x":0.45,"y":1.95,"z":2.5},{"x":0.45,"y":2.05,"z":2.5},{"x":0.45,"y":2.15,"z":2.6},{"x":0.45,"y":2.25,"z":2.6},{"x":0.45,"y":2.35,"z":2.7},{"x":0.45,"y":2.45,"z":2.7},{"x":0.45,"y":2.55,"z":2.7},{"x":0.45,"y":2.65,"z":2.8},{"x":0.45,"y":2.75,"z":2.8},{"x":0.45,"y":2.85,"z":2.8},{"x":0.45,"y":2.95,"z":2.9},
{"x":0.55,"y":-0.95,"z":2.2},{"x":0.55,"y":-0.85,"z":2.1},{"x":0.55,"y":-0.75,"z":2.0},{"x":0.55,"y":-0.65,"z":2.0},{"x":0.55,"y":-0.55,"z":1.9},{"x":0.55,"y":-0.45,"z":1.8},{"x":0.55,"y":-0.35,"z":1.6},{"x":0.55,"y":-0.25,"z":1.5},{"x":0.55,"y":-0.15,"z":1.3},{"x":0.55,"y":-0.05,"z":1.1},{"x":0.55,"y":0.05,"z":0.9},{"x":0.55,"y":0.15,"z":0.5},{"x":0.55,"y":0.25,"z":0.2},{"x":0.55,"y":0.35,"z":0.1},{"x":0.55,"y":0.45,"z":0.5},{"x":0.55,"y":0.55,"z":0.9},{"x":0.55,"y":0.65,"z":1.1},{"x":0.55,"y":0.75,"z":1.3},{"x":0.55,"y":0.85,"z":1.5},{"x":0.55,"y":0.95,"z":1.6},{"x":0.55,"y":1.05,"z":1.8},{"x":0.55,"y":1.15,"z":1.9},{"x":0.55,"y":1.25,"z":2.0},{"x":0.55,"y":1.35,"z":2.0},{"x":0.55,"y":1.45,"z":2.1},{"x":0.55,"y":1.55,"z":2.2},{"x":0.55,"y":1.65,"z":2.3},{"x":0.55,"y":1.75,"z":2.3},{"x":0.55,"y":1.85,"z":2.4},{"x":0.55,"y":1.95,"z":2.4},{"x":0.55,"y":2.05,"z":2.5},{"x":0.55,"y":2.15,"z":2.5},{"x":0.55,"y":2.25,"z":2.6},{"x":0.55,"y":2.35,"z":2.6},{"x":0.55,"y":2.45,"z":2.7},{"x":0.55,"y":2.55,"z":2.7},{"x":0.55,"y":2.65,"z":2.7},{"x":0.55,"y":2.75,"z":2.8},{"x":0.55,"y":2.85,"z":2.8},{"x":0.55,"y":2.95,"z":2.8},
{"x":0.65,"y":-0.95,"z":2.3},{"x":0.65,"y":-0.85,"z":2.2},{"x":0.65,"y":-0.75,"z":2.1},{"x":0.65,"y":-0.65,"z":2.1},{"x":0.65,"y":-0.55,"z":2.0},{"x":0.65,"y":-0.45,"z":1.9},{"x":0.65,"y":-0.35,"z":1.8},{"x":0.65,"y":-0.25,"z":1.7},{"x":0.65,"y":-0.15,"z":1.5},{"x":0.65,"y":-0.05,"z":1.4},{"x":0.65,"y":0.05,"z":1.2},{"x":0.65,"y":0.15,"z":0.9},{"x":0.65,"y":0.25,"z":0.6},{"x":0.65,"y":0.35,"z":0.2},{"x":0.65,"y":0.45,"z":0.1},{"x":0.65,"y":0.55,"z":0.4},{"x":0.65,"y":0.65,"z":0.8},{"x":0.65,"y":0.75,"z":1.1},{"x":0.65,"y":0.85,"z":1.3},{"x":0.65,"y":0.95,"z":1.5},{"x":0.65,"y":1.05,"z":1.6},{"x":0.65,"y":1.15,"z":1.7},{"x":0.65,"y":1.25,"z":1.8},{"x":0.65,"y":1.35,"z":1.9},{"x":0.65,"y":1.45,"z":2.0},{"x":0.65,"y":1.55,"z":2.1},{"x":0.65,"y":1.65,"z":2.2},{"x":0.65,"y":1.75,"z":2.2},{"x":0.65,"y":1.85,"z":2.3},{"x":0.65,"y":1.95,"z":2.4},{"x":0.65,"y":2.05,"z":2.4},{"x":0.65,"y":2.15,"z":2.5},{"x":0.65,"y":2.25,"z":2.5},{"x":0.65,"y":2.35,"z":2.6},{"x":0.65,"y":2.45,"z":2.6},{"x":0.65,"y":2.55,"z":2.7},{"x":0.65,"y":2.65,"z":2.7},{"x":0.65,"y":2.75,"z":2.7},{"x":0.65,"y":2.85,"z":2.8},{"x":0.65,"y":2.95,"z":2.8},
{"x":0.75,"y":-0.95,"z":2.4},{"x":0.75,"y":-0.85,"z":2.3},{"x":0.75,"y":-0.75,"z":2.2},{"x":0.75,"y":-0.65,"z":2.2},{"x":0.75,"y":-0.55,"z":2.1},{"x":0.75,"y":-0.45,"z":2.0},{"x":0.75,"y":-0.35,"z":1.9},{"x":0.75,"y":-0.25,"z":1.8},{"x":0.75,"y":-0.15,"z":1.7},{"x":0.75,"y":-0.05,"z":1.6},{"x":0.75,"y":0.05,"z":1.4},{"x":0.75,"y":0.15,"z":1.3},{"x":0.75,"y":0.25,"z":1.0},{"x":0.75,"y":0.35,"z":0.7},{"x":0.75,"y":0.45,"z":0.4},{"x":0.75,"y":0.55,"z":0.0},{"x":0.75,"y":0.65,"z":0.3},{"x":0.75,"y":0.75,"z":0.7},{"x":0.75,"y":0.85,"z":1.0},{"x":0.75,"y":0.95,"z":1.2},{"x":0.75,"y":1.05,"z":1.4},{"x":0.75,"y":1.15,"z":1.6},{"x":0.75,"y":1.25,"z":1.7},{"x":0.75,"y":1.35,"z":1.8},{"x":0.75,"y":1.45,"z":1.9},{"x":0.75,"y":1.55,"z":2.0},{"x":0.75,"y":1.65,"z":2.1},{"x":0.75,"y":1.75,"z":2.2},{"x":0.75,"y":1.85,"z":2.2},{"x":0.75,"y":1.95,"z":2.3},{"x":0.75,"y":2.05,"z":2.3},{"x":0.75,"y":2.15,"z":2.4},{"x":0.75,"y":2.25,"z":2.5},{"x":0.75,"y":2.35,"z":2.5},{"x":0.75,"y":2.45,"z":2.6},{"x":0.75,"y":2.55,"z":2.6},{"x":0.75,"y":2.65,"z":2.6},{"x":0.75,"y":2.75,"z":2.7},{"x":0.75,"y":2.85,"z":2.7},{"x":0.75,"y":2.95,"z":2.8},
{"x":0.85,"y":-0.95,"z":2.4},{"x":0.85,"y":-0.85,"z":2.4},{"x":0.85,"y":-0.75,"z":2.3},{"x":0.85,"y":-0.65,"z":2.3},{"x":0.85,"y":-0.55,"z":2.2},{"x":0.85,"y":-0.45,"z":2.1},{"x":0.85,"y":-0.35,"z":2.1},{"x":0.85,"y":-0.25,"z":2.0},{"x":0.85,"y":-0.15,"z":1.9},{"x":0.85,"y":-0.05,"z":1.8},{"x":0.85,"y":0.05,"z":1.7},{"x":0.85,"y":0.15,"z":1.5},{"x":0.85,"y":0.25,"z":1.4},{"x":0.85,"y":0.35,"z":1.2},{"x":0.85,"y":0.45,"z":0.9},{"x":0.85,"y":0.55,"z":0.6},{"x":0.85,"y":0.65,"z":0.2},{"x":0.85,"y":0.75,"z":0.0},{"x":0.85,"y":0.85,"z":0.4},{"x":0.85,"y":0.95,"z":0.8},{"x":0.85,"y":1.05,"z":1.1},{"x":0.85,"y":1.15,"z":1.3},{"x":0.85,"y":1.25,"z":1.5},{"x":0.85,"y":1.35,"z":1.6},{"x":0.85,"y":1.45,"z":1.7},{"x":0.85,"y":1.55,"z":1.8},{"x":0.85,"y":1.65,"z":1.9},{"x":0.85,"y":1.75,"z":2.0},{"x":0.85,"y":1.85,"z":2.1},{"x":0.85,"y":1.95,"z":2.2},{"x":0.85,"y":2.05,"z":2.2},{"x":0.85,"y":2.15,"z":2.3},{"x":0.85,"y":2.25,"z":2.4},{"x":0.85,"y":2.35,"z":2.4},{"x":0.85,"y":2.45,"z":2.5},{"x":0.85,"y":2.55,"z":2.5},{"x":0.85,"y":2.65,"z":2.6},{"x":0.85,"y":2.75,"z":2.6},{"x":0.85,"y":2.85,"z":2.7},{"x":0.85,"y":2.95,"z":2.7},
{"x":0.95,"y":-0.95,"z":2.5},{"x":0.95,"y":-0.85,"z":2.5},{"x":0.95,"y":-0.75,"z":2.4},{"x":0.95,"y":-0.65,"z":2.4},{"x":0.95,"y":-0.55,"z":2.3},{"x":0.95,"y":-0.45,"z":2.3},{"x":0.95,"y":-0.35,"z":2.2},{"x":0.95,"y":-0.25,"z":2.1},{"x":0.95,"y":-0.15,"z":2.0},{"x":0.95,"y":-0.05,"z":2.0},{"x":0.95,"y":0.05,"z":1.9},{"x":0.95,"y":0.15,"z":1.8},{"x":0.95,"y":0.25,"z":1.6},{"x":0.95,"y":0.35,"z":1.5},{"x":0.95,"y":0.45,"z":1.3},{"x":0.95,"y":0.55,"z":1.1},{"x":0.95,"y":0.65,"z":0.9},{"x":0.95,"y":0.75,"z":0.5},{"x":0.95,"y":0.85,"z":0.1},{"x":0.95,"y":0.95,"z":0.1},{"x":0.95,"y":1.05,"z":0.5},{"x":0.95,"y":1.15,"z":0.9},{"x":0.95,"y":1.25,"z":1.1},{"x":0.95,"y":1.35,"z":1.3},{"x":0.95,"y":1.45,"z":1.5},{"x":0.95,"y":1.55,"z":1.6},{"x":0.95,"y":1.65,"z":1.8},{"x":0.95,"y":1.75,"z":1.9},{"x":0.95,"y":1.85,"z":2.0},{"x":0.95,"y":1.95,"z":2.0},{"x":0.95,"y":2.05,"z":2.1},{"x":0.95,"y":2.15,"z":2.2},{"x":0.95,"y":2.25,"z":2.3},{"x":0.95,"y":2.35,"z":2.3},{"x":0.95,"y":2.45,"z":2.4},{"x":0.95,"y":2.55,"z":2.4},{"x":0.95,"y":2.65,"z":2.5},{"x":0.95,"y":2.75,"z":2.5},{"x":0.95,"y":2.85,"z":2.6},{"x":0.95,"y":2.95,"z":2.6},
{"x":1.05,"y":-0.95,"z":2.6},{"x":1.05,"y":-0.85,"z":2.6},{"x":1.05,"y":-0.75,"z":2.5},{"x":1.05,"y":-0.65,"z":2.5},{"x":1.05,"y":-0.55,"z":2.4},{"x":1.05,"y":-0.45,"z":2.4},{"x":1.05,"y":-0.35,"z":2.3},{"x":1.05,"y":-0.25,"z":2.3},{"x":1.05,"y":-0.15,"z":2.2},{"x":1.05,"y":-0.05,"z":2.1},{"x":1.05,"y":0.05,"z":2.0},{"x":1.05,"y":0.15,"z":2.0},{"x":1.05,"y":0.25,"z":1.9},{"x":1.05,"y":0.35,"z":1.8},{"x":1.05,"y":0.45,"z":1.6},{"x":1.05,"y":0.55,"z":1.5},{"x":1.05,"y":0.65,"z":1.3},{"x":1.05,"y":0.75,"z":1.1},{"x":1.05,"y":0.85,"z":0.9},{"x":1.05,"y":0.95,"z":0.5},{"x":1.05,"y":1.05,"z":0.1},{"x":1.05,"y":1.15,"z":0.1},{"x":1.05,"y":1.25,"z":0.5},{"x":1.05,"y":1.35,"z":0.9},{"x":1.05,"y":1.45,"z":1.1},{"x":1.05,"y":1.55,"z":1.3},{"x":1.05,"y":1.65,"z":1.5},{"x":1.05,"y":1.75,"z":1.6},{"x":1.05,"y":1.85,"z":1.8},{"x":1.05,"y":1.95,"z":1.9},{"x":1.05,"y":2.05,"z":2.0},{"x":1.05,"y":2.15,"z":2.0},{"x":1.05,"y":2.25,"z":2.1},{"x":1.05,"y":2.35,"z":2.2},{"x":1.05,"y":2.45,"z":2.3},{"x":1.05,"y":2.55,"z":2.3},{"x":1.05,"y":2.65,"z":2.4},{"x":1.05,"y":2.75,"z":2.4},{"x":1.05,"y":2.85,"z":2.5},{"x":1.05,"y":2.95,"z":2.5},
{"x":1.15,"y":-0.95,"z":2.7},{"x":1.15,"y":-0.85,"z":2.7},{"x":1.15,"y":-0.75,"z":2.6},{"x":1.15,"y":-0.65,"z":2.6},{"x":1.15,"y":-0.55,"z":2.5},{"x":1.15,"y":-0.45,"z":2.5},{"x":1.15,"y":-0.35,"z":2.4},{"x":1.15,"y":-0.25,"z":2.4},{"x":1.15,"y":-0.15,"z":2.3},{"x":1.15,"y":-0.05,"z":2.3},{"x":1.15,"y":0.05,"z":2.2},{"x":1.15,"y":0.15,"z":2.1},{"x":1.15,"y":0.25,"z":2.1},{"x":1.15,"y":0.35,"z":2.0},{"x":1.15,"y":0.45,"z":1.9},{"x":1.15,"y":0.55,"z":1.8},{"x":1.15,"y":0.65,"z":1.7},{"x":1.15,"y":0.75,"z":1.5},{"x":1.15,"y":0.85,"z":1.4},{"x":1.15,"y":0.95,"z":1.2},{"x":1.15,"y":1.05,"z":0.9},{"x":1.15,"y":1.15,"z":0.6},{"x":1.15,"y":1.25,"z":0.2},{"x":1.15,"y":1.35,"z":0.0},{"x":1.15,"y":1.45,"z":0.4},{"x":1.15,"y":1.55,"z":0.8},{"x":1.15,"y":1.65,"z":1.1},{"x":1.15,"y":1.75,"z":1.3},{"x":1.15,"y":1.85,"z":1.5},{"x":1.15,"y":1.95,"z":1.6},{"x":1.15,"y":2.05,"z":1.7},{"x":1.15,"y":2.15,"z":1.8},{"x":1.15,"y":2.25,"z":1.9},{"x":1.15,"y":2.35,"z":2.0},{"x":1.15,"y":2.45,"z":2.1},{"x":1.15,"y":2.55,"z":2.2},{"x":1.15,"y":2.65,"z":2.2},{"x":1.15,"y":2.75,"z":2.3},{"x":1.15,"y":2.85,"z":2.4},{"x":1.15,"y":2.95,"z":2.4},
{"x":1.25,"y":-0.95,"z":2.8},{"x":1.25,"y":-0.85,"z":2.8},{"x":1.25,"y":-0.75,"z":2.7},{"x":1.25,"y":-0.65,"z":2.7},{"x":1.25,"y":-0.55,"z":2.7},{"x":1.25,"y":-0.45,"z":2.6},{"x":1.25,"y":-0.35,"z":2.6},{"x":1.25,"y":-0.25,"z":2.5},{"x":1.25,"y":-0.15,"z":2.5},{"x":1.25,"y":-0.05,"z":2.4},{"x":1.25,"y":0.05,"z":2.4},{"x":1.25,"y":0.15,"z":2.3},{"x":1.25,"y":0.25,"z":2.2},{"x":1.25,"y":0.35,"z":2.2},{"x":1.25,"y":0.45,"z":2.1},{"x":1.25,"y":0.55,"z":2.0},{"x":1.25,"y":0.65,"z":1.9},{"x":1.25,"y":0.75,"z":1.8},{"x":1.25,"y":0.85,"z":1.7},{"x":1.25,"y":0.95,"z":1.6},{"x":1.25,"y":1.05,"z":1.4},{"x":1.25,"y":1.15,"z":1.3},{"x":1.25,"y":1.25,"z":1.0},{"x":1.25,"y":1.35,"z":0.7},{"x":1.25,"y":1.45,"z":0.4},{"x":1.25,"y":1.55,"z":0.0},{"x":1.25,"y":1.65,"z":0.3},{"x":1.25,"y":1.75,"z":0.7},{"x":1.25,"y":1.85,"z":1.0},{"x":1.25,"y":1.95,"z":1.2},{"x":1.25,"y":2.05,"z":1.4},{"x":1.25,"y":2.15,"z":1.6},{"x":1.25,"y":2.25,"z":1.7},{"x":1.25,"y":2.35,"z":1.8},{"x":1.25,"y":2.45,"z":1.9},{"x":1.25,"y":2.55,"z":2.0},{"x":1.25,"y":2.65,"z":2.1},{"x":1.25,"y":2.75,"z":2.2},{"x":1.25,"y":2.85,"z":2.2},{"x":1.25,"y":2.95,"z":2.3},
{"x":1.35,"y":-0.95,"z":2.9},{"x":1.35,"y":-0.85,"z":2.9},{"x":1.35,"y":-0.75,"z":2.8},{"x":1.35,"y":-0.65,"z":2.8},{"x":1.35,"y":-0.55,"z":2.8},{"x":1.35,"y":-0.45,"z":2.7},{"x":1.35,"y":-0.35,"z":2.7},{"x":1.35,"y":-0.25,"z":2.6},{"x":1.35,"y":-0.15,"z":2.6},{"x":1.35,"y":-0.05,"z":2.5},{"x":1.35,"y":0.05,"z":2.5},{"x":1.35,"y":0.15,"z":2.4},{"x":1.35,"y":0.25,"z":2.4},{"x":1.35,"y":0.35,"z":2.3},{"x":1.35,"y":0.45,"z":2.3},{"x":1.35,"y":0.55,"z":2.2},{"x":1.35,"y":0.65,"z":2.1},{"x":1.35,"y":0.75,"z":2.1},{"x":1.35,"y":0.85,"z":2.0},{"x":1.35,"y":0.95,"z":1.9},{"x":1.35,"y":1.05,"z":1.8},{"x":1.35,"y":1.15,"z":1.7},{"x":1.35,"y":1.25,"z":1.5},{"x":1.35,"y":1.35,"z":1.4},{"x":1.35,"y":1.45,"z":1.2},{"x":1.35,"y":1.55,"z":0.9},{"x":1.35,"y":1.65,"z":0.6},{"x":1.35,"y":1.75,"z":0.2},{"x":1.35,"y":1.85,"z":0.1},{"x":1.35,"y":1.95,"z":0.4},{"x":1.35,"y":2.05,"z":0.8},{"x":1.35,"y":2.15,"z":1.1},{"x":1.35,"y":2.25,"z":1.3},{"x":1.35,"y":2.35,"z":1.5},{"x":1.35,"y":2.45,"z":1.6},{"x":1.35,"y":2.55,"z":1.7},{"x":1.35,"y":2.65,"z":1.8},{"x":1.35,"y":2.75,"z":1.9},{"x":1.35,"y":2.85,"z":2.0},{"x":1.35,"y":2.95,"z":2.1},
{"x":1.45,"y":-0.95,"z":3.0},{"x":1.45,"y":-0.85,"z":2.9},{"x":1.45,"y":-0.75,"z":2.9},{"x":1.45,"y":-0.65,"z":2.9},{"x":1.45,"y":-0.55,"z":2.8},{"x":1.45,"y":-0.45,"z":2.8},{"x":1.45,"y":-0.35,"z":2.8},{"x":1.45,"y":-0.25,"z":2.7},{"x":1.45,"y":-0.15,"z":2.7},{"x":1.45,"y":-0.05,"z":2.7},{"x":1.45,"y":0.05,"z":2.6},{"x":1.45,"y":0.15,"z":2.6},{"x":1.45,"y":0.25,"z":2.5},{"x":1.45,"y":0.35,"z":2.5},{"x":1.45,"y":0.45,"z":2.4},{"x":1.45,"y":0.55,"z":2.4},{"x":1.45,"y":0.65,"z":2.3},{"x":1.45,"y":0.75,"z":2.3},{"x":1.45,"y":0.85,"z":2.2},{"x":1.45,"y":0.95,"z":2.1},{"x":1.45,"y":1.05,"z":2.0},{"x":1.45,"y":1.15,"z":2.0},{"x":1.45,"y":1.25,"z":1.9},{"x":1.45,"y":1.35,"z":1.8},{"x":1.45,"y":1.45,"z":1.6},{"x":1.45,"y":1.55,"z":1.5},{"x":1.45,"y":1.65,"z":1.3},{"x":1.45,"y":1.75,"z":1.1},{"x":1.45,"y":1.85,"z":0.9},{"x":1.45,"y":1.95,"z":0.5},{"x":1.45,"y":2.05,"z":0.2},{"x":1.45,"y":2.15,"z":0.1},{"x":1.45,"y":2.25,"z":0.5},{"x":1.45,"y":2.35,"z":0.9},{"x":1.45,"y":2.45,"z":1.1},{"x":1.45,"y":2.55,"z":1.3},{"x":1.45,"y":2.65,"z":1.5},{"x":1.45,"y":2.75,"z":1.6},{"x":1.45,"y":2.85,"z":1.8},{"x":1.45,"y":2.95,"z":1.9},
{"x":1.55,"y":-0.95,"z":3.1},{"x":1.55,"y":-0.85,"z":3.0},{"x":1.55,"y":-0.75,"z":3.0},{"x":1.55,"y":-0.65,"z":3.0},{"x":1.55,"y":-0.55,"z":2.9},{"x":1.55,"y":-0.45,"z":2.9},{"x":1.55,"y":-0.35,"z":2.9},{"x":1.55,"y":-0.25,"z":2.8},{"x":1.55,"y":-0.15,"z":2.8},{"x":1.55,"y":-0.05,"z":2.8},{"x":1.55,"y":0.05,"z":2.7},{"x":1.55,"y":0.15,"z":2.7},{"x":1.55,"y":0.25,"z":2.7},{"x":1.55,"y":0.35,"z":2.6},{"x":1.55,"y":0.45,"z":2.6},{"x":1.55,"y":0.55,"z":2.5},{"x":1.55,"y":0.65,"z":2.5},{"x":1.55,"y":0.75,"z":2.4},{"x":1.55,"y":0.85,"z":2.4},{"x":1.55,"y":0.95,"z":2.3},{"x":1.55,"y":1.05,"z":2.3},{"x":1.55,"y":1.15,"z":2.2},{"x":1.55,"y":1.25,"z":2.1},{"x":1.55,"y":1.35,"z":2.0},{"x":1.55,"y":1.45,"z":2.0},{"x":1.55,"y":1.55,"z":1.9},{"x":1.55,"y":1.65,"z":1.8},{"x":1.55,"y":1.75,"z":1.6},{"x":1.55,"y":1.85,"z":1.5},{"x":1.55,"y":1.95,"z":1.3},{"x":1.55,"y":2.05,"z":1.1},{"x":1.55,"y":2.15,"z":0.9},{"x":1.55,"y":2.25,"z":0.6},{"x":1.55,"y":2.35,"z":0.2},{"x":1.55,"y":2.45,"z":0.2},{"x":1.55,"y":2.55,"z":0.5},{"x":1.55,"y":2.65,"z":0.9},{"x":1.55,"y":2.75,"z":1.1},{"x":1.55,"y":2.85,"z":1.3},{"x":1.55,"y":2.95,"z":1.5},
{"x":1.65,"y":-0.95,"z":3.1},{"x":1.65,"y":-0.85,"z":3.1},{"x":1.65,"y":-0.75,"z":3.1},{"x":1.65,"y":-0.65,"z":3.1},{"x":1.65,"y":-0.55,"z":3.0},{"x":1.65,"y":-0.45,"z":3.0},{"x":1.65,"y":-0.35,"z":3.0},{"x":1.65,"y":-0.25,"z":2.9},{"x":1.65,"y":-0.15,"z":2.9},{"x":1.65,"y":-0.05,"z":2.9},{"x":1.65,"y":0.05,"z":2.9},{"x":1.65,"y":0.15,"z":2.8},{"x":1.65,"y":0.25,"z":2.8},{"x":1.65,"y":0.35,"z":2.8},{"x":1.65,"y":0.45,"z":2.7},{"x":1.65,"y":0.55,"z":2.7},{"x":1.65,"y":0.65,"z":2.6},{"x":1.65,"y":0.75,"z":2.6},{"x":1.65,"y":0.85,"z":2.5},{"x":1.65,"y":0.95,"z":2.5},{"x":1.65,"y":1.05,"z":2.4},{"x":1.65,"y":1.15,"z":2.4},{"x":1.65,"y":1.25,"z":2.3},{"x":1.65,"y":1.35,"z":2.3},{"x":1.65,"y":1.45,"z":2.2},{"x":1.65,"y":1.55,"z":2.1},{"x":1.65,"y":1.65,"z":2.1},{"x":1.65,"y":1.75,"z":2.0},{"x":1.65,"y":1.85,"z":1.9},{"x":1.65,"y":1.95,"z":1.8},{"x":1.65,"y":2.05,"z":1.7},{"x":1.65,"y":2.15,"z":1.5},{"x":1.65,"y":2.25,"z":1.4},{"x":1.65,"y":2.35,"z":1.2},{"x":1.65,"y":2.45,"z":0.9},{"x":1.65,"y":2.55,"z":0.6},{"x":1.65,"y":2.65,"z":0.3},{"x":1.65,"y":2.75,"z":0.2},{"x":1.65,"y":2.85,"z":0.5},{"x":1.65,"y":2.95,"z":0.8},
{"x":1.75,"y":-0.95,"z":3.2},{"x":1.75,"y":-0.85,"z":3.2},{"x":1.75,"y":-0.75,"z":3.2},{"x":1.75,"y":-0.65,"z":3.1},{"x":1.75,"y":-0.55,"z":3.1},{"x":1.75,"y":-0.45,"z":3.1},{"x":1.75,"y":-0.35,"z":3.1},{"x":1.75,"y":-0.25,"z":3.0},{"x":1.75,"y":-0.15,"z":3.0},{"x":1.75,"y":-0.05,"z":3.0},{"x":1.75,"y":0.05,"z":3.0},{"x":1.75,"y":0.15,"z":2.9},{"x":1.75,"y":0.25,"z":2.9},{"x":1.75,"y":0.35,"z":2.9},{"x":1.75,"y":0.45,"z":2.8},{"x":1.75,"y":0.55,"z":2.8},{"x":1.75,"y":0.65,"z":2.8},{"x":1.75,"y":0.75,"z":2.7},{"x":1.75,"y":0.85,"z":2.7},{"x":1.75,"y":0.95,"z":2.7},{"x":1.75,"y":1.05,"z":2.6},{"x":1.75,"y":1.15,"z":2.6},{"x":1.75,"y":1.25,"z":2.5},{"x":1.75,"y":1.35,"z":2.5},{"x":1.75,"y":1.45,"z":2.4},{"x":1.75,"y":1.55,"z":2.4},{"x":1.75,"y":1.65,"z":2.3},{"x":1.75,"y":1.75,"z":2.2},{"x":1.75,"y":1.85,"z":2.2},{"x":1.75,"y":1.95,"z":2.1},{"x":1.75,"y":2.05,"z":2.0},{"x":1.75,"y":2.15,"z":1.9},{"x":1.75,"y":2.25,"z":1.8},{"x":1.75,"y":2.35,"z":1.7},{"x":1.75,"y":2.45,"z":1.6},{"x":1.75,"y":2.55,"z":1.4},{"x":1.75,"y":2.65,"z":1.3},{"x":1.75,"y":2.75,"z":1.1},{"x":1.75,"y":2.85,"z":0.8},{"x":1.75,"y":2.95,"z":0.5},
{"x":1.85,"y":-0.95,"z":3.3},{"x":1.85,"y":-0.85,"z":3.3},{"x":1.85,"y":-0.75,"z":3.2},{"x":1.85,"y":-0.65,"z":3.2},{"x":1.85,"y":-0.55,"z":3.2},{"x":1.85,"y":-0.45,"z":3.2},{"x":1.85,"y":-0.35,"z":3.2},{"x":1.85,"y":-0.25,"z":3.1},{"x":1.85,"y":-0.15,"z":3.1},{"x":1.85,"y":-0.05,"z":3.1},{"x":1.85,"y":0.05,"z":3.1},{"x":1.85,"y":0.15,"z":3.0},{"x":1.85,"y":0.25,"z":3.0},{"x":1.85,"y":0.35,"z":3.0},{"x":1.85,"y":0.45,"z":2.9},{"x":1.85,"y":0.55,"z":2.9},{"x":1.85,"y":0.65,"z":2.9},{"x":1.85,"y":0.75,"z":2.9},{"x":1.85,"y":0.85,"z":2.8},{"x":1.85,"y":0.95,"z":2.8},{"x":1.85,"y":1.05,"z":2.8},{"x":1.85,"y":1.15,"z":2.7},{"x":1.85,"y":1.25,"z":2.7},{"x":1.85,"y":1.35,"z":2.6},{"x":1.85,"y":1.45,"z":2.6},{"x":1.85,"y":1.55,"z":2.5},{"x":1.85,"y":1.65,"z":2.5},{"x":1.85,"y":1.75,"z":2.4},{"x":1.85,"y":1.85,"z":2.4},{"x":1.85,"y":1.95,"z":2.3},{"x":1.85,"y":2.05,"z":2.3},{"x":1.85,"y":2.15,"z":2.2},{"x":1.85,"y":2.25,"z":2.1},{"x":1.85,"y":2.35,"z":2.1},{"x":1.85,"y":2.45,"z":2.0},{"x":1.85,"y":2.55,"z":1.9},{"x":1.85,"y":2.65,"z":1.8},{"x":1.85,"y":2.75,"z":1.7},{"x":1.85,"y":2.85,"z":1.5},{"x":1.85,"y":2.95,"z":1.4},
{"x":1.95,"y":-0.95,"z":3.4},{"x":1.95,"y":-0.85,"z":3.3},{"x":1.95,"y":-0.75,"z":3.3},{"x":1.95,"y":-0.65,"z":3.3},{"x":1.95,"y":-0.55,"z":3.3},{"x":1.95,"y":-0.45,"z":3.3},{"x":1.95,"y":-0.35,"z":3.2},{"x":1.95,"y":-0.25,"z":3.2},{"x":1.95,"y":-0.15,"z":3.2},{"x":1.95,"y":-0.05,"z":3.2},{"x":1.95,"y":0.05,"z":3.1},{"x":1.95,"y":0.15,"z":3.1},{"x":1.95,"y":0.25,"z":3.1},{"x":1.95,"y":0.35,"z":3.1},{"x":1.95,"y":0.45,"z":3.1},{"x":1.95,"y":0.55,"z":3.0},{"x":1.95,"y":0.65,"z":3.0},{"x":1.95,"y":0.75,"z":3.0},{"x":1.95,"y":0.85,"z":2.9},{"x":1.95,"y":0.95,"z":2.9},{"x":1.95,"y":1.05,"z":2.9},{"x":1.95,"y":1.15,"z":2.8},{"x":1.95,"y":1.25,"z":2.8},{"x":1.95,"y":1.35,"z":2.8},{"x":1.95,"y":1.45,"z":2.7},{"x":1.95,"y":1.55,"z":2.7},{"x":1.95,"y":1.65,"z":2.7},{"x":1.95,"y":1.75,"z":2.6},{"x":1.95,"y":1.85,"z":2.6},{"x":1.95,"y":1.95,"z":2.5},{"x":1.95,"y":2.05,"z":2.5},{"x":1.95,"y":2.15,"z":2.4},{"x":1.95,"y":2.25,"z":2.4},{"x":1.95,"y":2.35,"z":2.3},{"x":1.95,"y":2.45,"z":2.3},{"x":1.95,"y":2.55,"z":2.2},{"x":1.95,"y":2.65,"z":2.1},{"x":1.95,"y":2.75,"z":2.1},{"x":1.95,"y":2.85,"z":2.0},{"x":1.95,"y":2.95,"z":1.9}
],
"path":[
{"i":0,"x":-1.0,"y":2.5},{"i":1,"x":-1.6,"y":2.2},{"i":2,"x":-1.34,"y":2.29},{"i":3,"x":-1.59,"y":2.2},{"i":4,"x":-1.348,"y":2.273},{"i":5,"x":-1.585,"y":2.198},{"i":6,"x":-1.356,"y":2.256},{"i":7,"x":-1.58,"y":2.196},{"i":8,"x":-1.364,"y":2.239},{"i":9,"x":-1.575,"y":2.194},{"i":10,"x":-1.372,"y":2.222},{"i":11,"x":-1.57,"y":2.192},{"i":12,"x":-1.38,"y":2.205},{"i":13,"x":-1.565,"y":2.19},{"i":14,"x":-1.388,"y":2.188},{"i":15,"x":-1.56,"y":2.188},{"i":16,"x":-1.396,"y":2.171},{"i":17,"x":-1.555,"y":2.186},{"i":18,"x":-1.404,"y":2.154},{"i":19,"x":-1.55,"y":2.184},{"i":20,"x":-1.412,"y":2.137},{"i":21,"x":-1.54,"y":2.18},{"i":22,"x":-1.42,"y":2.12},
{"i":23,"x":-1.35,"y":1.93},{"i":24,"x":-1.25,"y":1.66},{"i":25,"x":-1.15,"y":1.41},{"i":26,"x":-1.05,"y":1.19},{"i":27,"x":-0.95,"y":0.99},{"i":28,"x":-0.85,"y":0.8},{"i":29,"x":-0.75,"y":0.63},{"i":30,"x":-0.65,"y":0.49},{"i":31,"x":-0.55,"y":0.36},{"i":32,"x":-0.45,"y":0.25},{"i":33,"x":-0.35,"y":0.16},{"i":34,"x":-0.25,"y":0.09},{"i":35,"x":-0.15,"y":0.04},{"i":36,"x":-0.05,"y":0.01},{"i":37,"x":0.05,"y":0.0},{"i":38,"x":0.15,"y":0.02},{"i":39,"x":0.25,"y":0.06},{"i":40,"x":0.35,"y":0.12},{"i":41,"x":0.45,"y":0.2},{"i":42,"x":0.55,"y":0.3},{"i":43,"x":0.65,"y":0.42},{"i":44,"x":0.75,"y":0.56},{"i":45,"x":0.85,"y":0.71},{"i":46,"x":0.88,"y":0.76}
],
"minimum":[{"x":1.0,"y":1.0}]
},
"layer":[
{"data":{"name":"grid"},
"mark":{"type":"rect","strokeWidth":0.7},
"encoding":{
"x":{"field":"x","type":"quantitative","bin":{"step":0.1,"extent":[-2,2]},"scale":{"domain":[-2,2],"nice":false,"zero":false},"axis":{"values":[-2,-1.5,-1,-0.5,0,0.5,1,1.5,2],"format":".1f","labelPadding":6,"labelFlush":false}},
"y":{"field":"y","type":"quantitative","bin":{"step":0.1,"extent":[-1,3]},"scale":{"domain":[-1,3],"nice":false,"zero":false},"axis":{"values":[-1,-0.5,0,0.5,1,1.5,2,2.5,3],"format":".1f","labelPadding":4,"labelFlush":false}},
"color":{"field":"z","type":"quantitative","scale":{"domain":[-0.7,3.7],"range":["#008060","#ffff5e"],"interpolate":"rgb"},"legend":null},
"stroke":{"field":"z","type":"quantitative","scale":{"domain":[-0.7,3.7],"range":["#008060","#ffff5e"],"interpolate":"rgb"},"legend":null}
}},
{"data":{"name":"path"},
"mark":{"type":"line","color":"black","strokeWidth":2.5,"strokeJoin":"round"},
"encoding":{
"x":{"field":"x","type":"quantitative"},
"y":{"field":"y","type":"quantitative"},
"order":{"field":"i","type":"quantitative"}
}},
{"data":{"name":"minimum"},
"mark":{"type":"point","filled":true,"color":"black","size":50,"opacity":1},
"encoding":{
"x":{"field":"x","type":"quantitative"},
"y":{"field":"y","type":"quantitative"}
}}
]
}
